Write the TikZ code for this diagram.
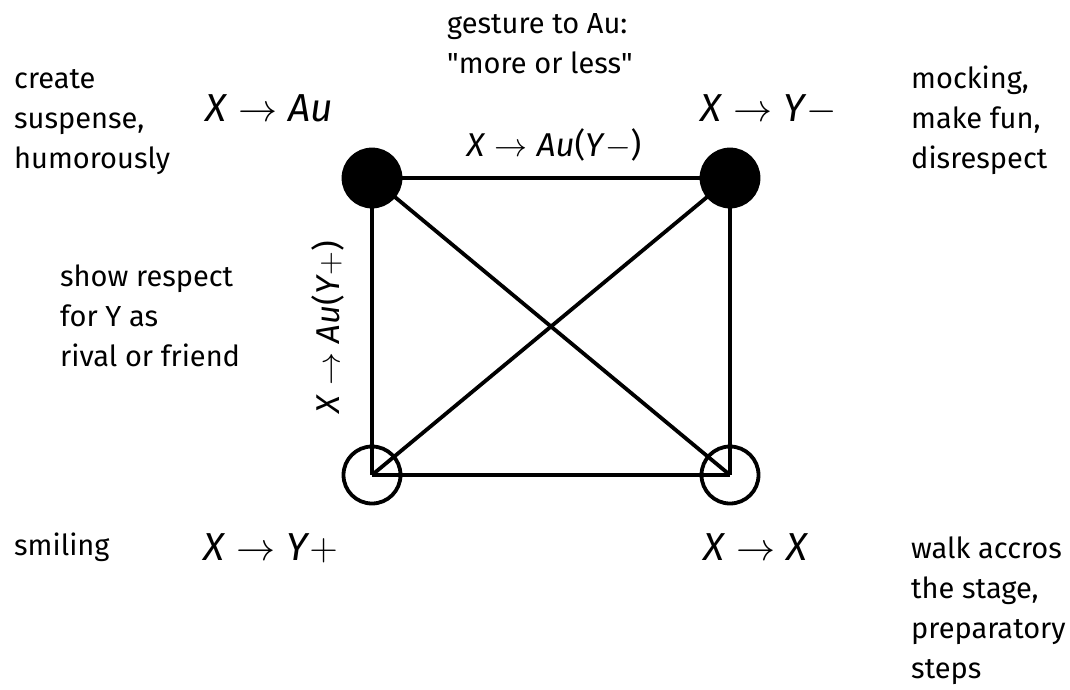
\RequirePackage{fix-cm}
\documentclass[tikz,border=0pt]{standalone}
\usepackage{fontspec}
\setmainfont{Fira Sans}
\usepackage{tikz}
\usetikzlibrary{positioning}

\newcommand{\mv}[1]{\textit{#1}}
\newcommand{\rarr}{\hspace{0.28em}$\rightarrow$\hspace{0.28em}}

\begin{document}
\begin{tikzpicture}[x=1pt, y=-1pt,
  dot/.style={circle, draw, line width=3.8pt, minimum size=57pt, inner sep=0pt},
  lleno/.style={dot, fill=black},
  vacio/.style={dot},
  edge/.style={line width=3.8pt},
  txt/.style={font=\fontsize{29}{40}\selectfont, align=left, anchor=base west, inner sep=0pt},
  rel/.style={font=\fontsize{39}{42}\selectfont, anchor=base west, inner sep=0pt},
  relsm/.style={font=\fontsize{33}{36}\selectfont, inner sep=0pt}
]
\useasboundingbox (0,0) rectangle (1070,689);

% Estados
\node[lleno] (au)    at (372,178) {};
\node[lleno] (ymin)  at (730,178) {};
\node[vacio] (yplus) at (372,475) {};
\node[vacio] (xx)    at (730,475) {};

% Aristas
\draw[edge] (au.center) -- (ymin.center);
\draw[edge] (au.center) -- (yplus.center);
\draw[edge] (ymin.center) -- (xx.center);
\draw[edge] (yplus.center) -- (xx.center);
\draw[edge] (au.center) -- (xx.center);
\draw[edge] (ymin.center) -- (yplus.center);

% Relaciones
\node[rel] (lau)    at (205,121) {\mv{X}\rarr\mv{Au}};
\node[rel] (lymin)  at (700,121) {\mv{X}\rarr\mv{Y}$-$};
\node[rel] (lyplus) at (203,560) {\mv{X}\rarr\mv{Y}$+$};
\node[rel] (lxx)    at (703,560) {\mv{X}\rarr\mv{X}};
\node[relsm] (ltop)  at (554,145) {\mv{X}\rarr\mv{Au}(\mv{Y}$-$)};
\node[relsm, rotate=90] (lleft) at (328,327) {\mv{X}\rarr\mv{Au}(\mv{Y}$+$)};

% Significados
\node[txt] (tgest)  at (447,73)  {gesture to Au:\\\textquotedbl more or less\textquotedbl};
\node[txt] (tsusp)  at (14,168)  {create\\suspense,\\humorously};
\node[txt] (tmock)  at (911,168) {mocking,\\make fun,\\disrespect};
\node[txt] (tresp)  at (60,366)  {show respect\\for Y as\\rival or friend};
\node[txt] (tsmile) at (14,555)  {smiling};
\node[txt] (twalk)  at (911,678) {walk accros\\the stage,\\preparatory\\steps};

\end{tikzpicture}
\end{document}
